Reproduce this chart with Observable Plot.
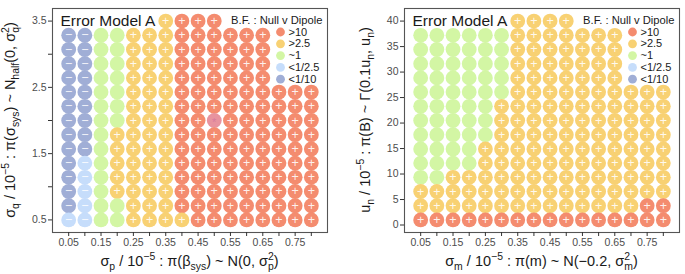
<!DOCTYPE html>
<html><head><meta charset="utf-8">
<script src="https://cdn.jsdelivr.net/npm/d3@7"></script>
<script src="https://cdn.jsdelivr.net/npm/@observablehq/plot@0.6"></script>
<style>
body{margin:0;background:#fff;font-family:"Liberation Sans",Arial,sans-serif;}
#wrap{display:flex;width:685px;height:274px;}
#wrap svg{display:block;}
</style></head><body><div id="wrap"></div>
<script>
// ---- data ----
const xValues = [0.05,0.10,0.15,0.20,0.25,0.30,0.35,0.40,0.45,0.50,0.55,0.60,0.65,0.70,0.75,0.80];
const xTickLabels = ["0.05","0.15","0.25","0.35","0.45","0.55","0.65","0.75"];
const leftY = [3.5,3.286,3.071,2.857,2.643,2.429,2.214,2.0,1.786,1.571,1.357,1.143,0.929,0.714,0.5];
const leftYTicks = [0.5,1.0,1.5,2.0,2.5,3.0,3.5];
const leftYLabels = ["0.5","1.5","2.5","3.5"];
const rightY = [40,37.21,34.43,31.64,28.86,26.07,23.29,20.5,17.71,14.93,12.14,9.36,6.57,3.79,1];
const rightYTicks = [0,5,10,15,20,25,30,35,40];
// R: >10, Y: >2.5, G: ~1, L: <1/2.5, B: <1/10, X: highlighted point, ".": hidden
const leftGrid = [
  "......YRRR......",
  "BBGGYYYRRRRRR...",
  "BBGGYYYRRRRRR...",
  "BBGGYYYRRRRRR...",
  "BBGGYYYRRRRRR...",
  "BBGGYYYRRRRRRRRR",
  "BBGGYYYRRRRRRRRR",
  "BBGGYYYRRXRRRRRR",
  "BBGYYYYRRRRRRRRR",
  "BBGYYYYRRRRRRRRR",
  "BLGYYYYRRRRRRRRR",
  "BLGYYYYRRRRRRRRR",
  "BLGYYYYRRRRRRRRR",
  "BLGGYYYRRRRRRRRR",
  "LLGGYYYYRRRRRRRR"
];
const rightGrid = [
  "......YYYY......",
  "GGGGGGYYYYYYY...",
  "GGGGGGYYYYYYY...",
  "GGGGGGYYYYYYY...",
  "GGGGGGYYYYYYY...",
  "GGGGGGYYYYYYYYYY",
  "GGGGGYYYYYYYYYYY",
  "GGGGGYYYYYYYYYYY",
  "GGGGGYYYYYYYYYYY",
  "GGGGYYYYYYYYYYYY",
  "GGGGYYYYYYYYYYYY",
  "GGYYYYYYYYYYYYYY",
  "YYYYYYYYYYYYYYYY",
  "YYYYYYYYYYYYYYRR",
  "RRRRRRRRRRRRRRRR"
];
const codes = ["R","Y","G","L","B","X"];
const categoryLabels = [">10", ">2.5", "~1", "<1/2.5", "<1/10"];
const colors = ["#F48C6F","#F8D173","#D3F6A4","#C6DDFB","#A0AED6","#E8939F"];
const signOf = {R:"+", Y:"+", G:"", L:"\u2212", B:"\u2212", X:""};
const legendTitle = "B.F. : Null v Dipole";
const panelTitle = "Error Model A";

// ---- helpers ----
function cellsFrom(grid, ys) {
  const out = [];
  grid.forEach((row, j) => {
    [...row].forEach((c, i) => {
      if (c !== ".") out.push({x: xValues[i], y: ys[j], code: c});
    });
  });
  return out;
}

function mathText(svg, x, y, rotate, parts, fs) {
  const t = d3.select(svg).append("text")
    .attr("transform", `translate(${x},${y}) rotate(${rotate})`)
    .attr("text-anchor", "middle")
    .attr("font-size", fs)
    .attr("fill", "#1a1a1a")
    .attr("font-family", "Liberation Sans, Arial, sans-serif");
  let cur = 0;
  const small = fs * 0.72;
  function add(txt, off, size, dx) {
    const ts = t.append("tspan").text(txt).attr("dy", off - cur).attr("font-size", size);
    if (dx) ts.attr("dx", dx);
    cur = off;
  }
  for (const [txt, kind] of parts) {
    if (kind === "n") add(txt, 0, fs);
    else if (kind === "sub") add(txt, fs * 0.3, small);
    else if (kind === "sup") add(txt, -fs * 0.42, small);
    else if (kind === "subsup") {
      add(txt[1], -fs * 0.42, small);
      add(txt[0], fs * 0.3, small, -small * 0.55);
    }
  }
  return t;
}

function panel({grid, ys, yDomain, yTicks, yFormat, width, marginLeft, marginRight, yTitle, xTitle, yTitleX}) {
  const cells = cellsFrom(grid, ys);
  const signed = cells.filter(d => signOf[d.code]);
  const special = cells.filter(d => d.code === "X");
  const marks = [
    Plot.dot(cells, {x: "x", y: "y", r: 7.4, fill: "code"}),
    Plot.text(signed, {x: "x", y: "y", text: d => signOf[d.code], fill: "white", fillOpacity: 0.9, fontSize: 12.5}),
    Plot.text(special, {x: "x", y: "y", text: () => "*", fill: "#D77C9E", fontSize: 11, dy: 1.5}),
    Plot.frame({stroke: "#555", strokeWidth: 1.1}),
    Plot.axisX({ticks: xValues, tickFormat: d => { const s = d.toFixed(2); return xTickLabels.includes(s) ? s : ""; }, tickSize: 4, tickPadding: 2, label: null, stroke: "#333", fill: "#4d4d4d"}),
    Plot.axisY({ticks: yTicks, tickFormat: yFormat, tickSize: 4, tickPadding: 2, label: null, stroke: "#333", fill: "#4d4d4d"}),
    Plot.text([panelTitle], {frameAnchor: "top-left", dx: 8, dy: 12.5, textAnchor: "start", lineAnchor: "middle", fontSize: 15.5, fill: "#1a1a1a"}),
    Plot.text([legendTitle], {frameAnchor: "top-right", dx: -5, dy: 12, textAnchor: "end", lineAnchor: "middle", fontSize: 11.2, fill: "#1a1a1a"})
  ];
  categoryLabels.forEach((lab, k) => {
    marks.push(Plot.dot([lab], {frameAnchor: "top-right", dx: -47, dy: 23.5 + 11.8 * k, r: 4.4, fill: colors[k]}));
    marks.push(Plot.text([lab], {frameAnchor: "top-right", dx: -39, dy: 23.5 + 11.8 * k, textAnchor: "start", lineAnchor: "middle", fontSize: 11, fill: "#1a1a1a"}));
  });
  const svg = Plot.plot({
    width, height: 274, marginLeft, marginRight, marginTop: 8, marginBottom: 42,
    style: {fontFamily: "Liberation Sans, Arial, sans-serif", fontSize: "10.5px", background: "white", overflow: "visible"},
    x: {domain: [0, 0.85], label: null},
    y: {domain: yDomain, label: null},
    color: {domain: codes, range: colors},
    marks
  });
  const cx = marginLeft + (width - marginLeft - marginRight) / 2;
  mathText(svg, yTitleX, 120, -90, yTitle, 14.5);
  mathText(svg, cx, 266, 0, xTitle, 14.5);
  return svg;
}

const wrap = document.getElementById("wrap");
wrap.appendChild(panel({
  grid: leftGrid, ys: leftY, yDomain: [0.31, 3.69], yTicks: leftYTicks,
  yFormat: d => leftYLabels.includes(String(d)) ? String(d) : "",
  width: 342, marginLeft: 52, marginRight: 15, yTitleX: 15,
  yTitle: [["σ","n"],["q","sub"],[" / 10","n"],["\u22125","sup"],[" : π(σ","n"],["sys","sub"],[") ~ N","n"],["half","sub"],["(0, σ","n"],[["q","2"],"subsup"],[")","n"]],
  xTitle: [["σ","n"],["p","sub"],[" / 10","n"],["\u22125","sup"],[" : π(β","n"],["sys","sub"],[") ~ N(0, σ","n"],[["p","2"],"subsup"],[")","n"]]
}));
wrap.appendChild(panel({
  grid: rightGrid, ys: rightY, yDomain: [-1.47, 42.47], yTicks: rightYTicks,
  yFormat: d => String(d),
  width: 343, marginLeft: 62, marginRight: 6, yTitleX: 28,
  yTitle: [["u","n"],["n","sub"],[" / 10","n"],["\u22125","sup"],[" : π(B) ~ Γ(0.1u","n"],["n","sub"],[", u","n"],["n","sub"],[")","n"]],
  xTitle: [["σ","n"],["m","sub"],[" / 10","n"],["\u22125","sup"],[" : π(m) ~ N(\u22120.2, σ","n"],[["m","2"],"subsup"],[")","n"]]
}));
</script></body></html>
